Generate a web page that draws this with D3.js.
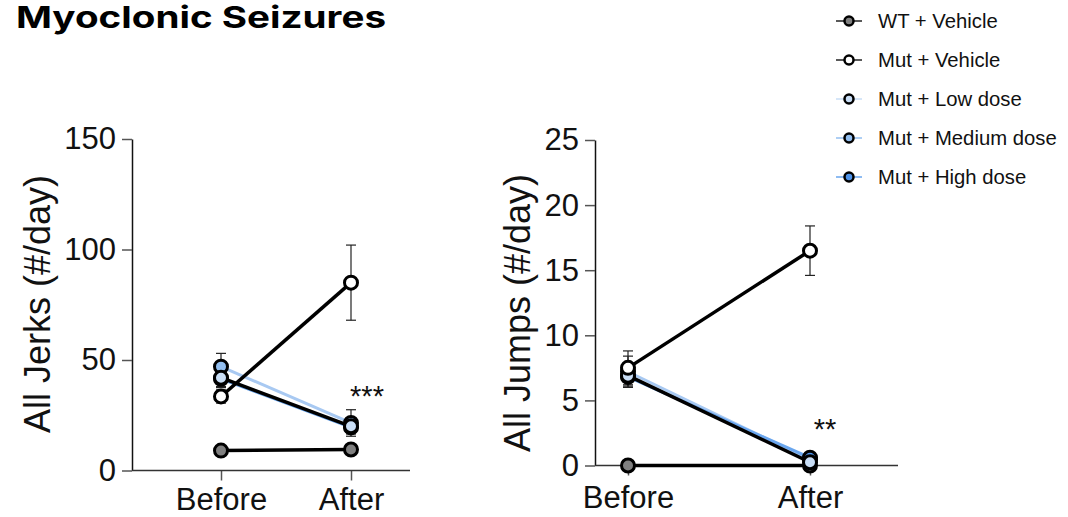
<!DOCTYPE html>
<html>
<head>
<meta charset="utf-8">
<script src="https://cdn.jsdelivr.net/npm/d3@7"></script>
<style>
  html, body { margin: 0; padding: 0; background: #fff; }
  svg { display: block; }
</style>
</head>
<body>
<div id="chart"></div>
<script>
// ── Data ────────────────────────────────────────────────────────────────
var timepoints = ["Before", "After"];
var groups = ["WT + Vehicle", "Mut + Vehicle", "Mut + Low dose", "Mut + Medium dose", "Mut + High dose"];

// All Jerks (#/day): [before, after] and SEM
var jerksMean = [[9, 9.5], [33.5, 85], [42, 20], [47, 21.5], [41.5, 19.5]];
var jerksSem  = [[0.8, 0.8], [3, 17], [4, 3], [6, 6], [4, 3]];
var jerksTicks = [0, 50, 100, 150];

// All Jumps (#/day)
var jumpsMean = [[0, 0], [7.5, 16.5], [6.9, 0.25], [7.2, 0.45], [6.8, 0.6]];
var jumpsSem  = [[0, 0], [1.3, 1.9], [0.8, 0.2], [1.2, 0.3], [0.8, 0.3]];
var jumpsTicks = [0, 5, 10, 15, 20, 25];

// ── Styles ──────────────────────────────────────────────────────────────
var FONT = "'Liberation Sans', Arial, Helvetica, sans-serif";
var fills      = ["#808080", "#ffffff", "#c9def6", "#93bff0", "#4f94ea"];
var lineCols   = ["#000", "#000", "#000", "#a8c9f2", "#6aa6ee"];
var legendLine = ["#222", "#222", "#c9def6", "#93bff0", "#6aa6ee"];
var lineWidths = [3.5, 3.5, 3.5, 3, 3];
var drawOrder  = [0, 3, 4, 2, 1];

var W = 1068, H = 517;
var svg = d3.select("#chart").append("svg").attr("width", W).attr("height", H);

// Title
svg.append("text")
  .attr("x", 16).attr("y", 28)
  .attr("font-family", "Inter, 'Noto Sans', sans-serif")
  .attr("font-weight", 700)
  .attr("font-size", "30px")
  .attr("textLength", 370)
  .attr("lengthAdjust", "spacingAndGlyphs")
  .attr("fill", "#000")
  .text("Myoclonic Seizures");

// ── Panel ───────────────────────────────────────────────────────────────
function panel(opts) {
  var g = svg.append("g");
  var x = d3.scalePoint().domain(timepoints).range(opts.xr);
  var y = d3.scaleLinear().domain([0, opts.ymax]).range([opts.y0, opts.y1]);

  // y axis
  var ya = g.append("g").attr("transform", "translate(" + opts.ax + ",0)")
    .call(d3.axisLeft(y).tickValues(opts.ticks).tickSize(10).tickSizeOuter(0).tickPadding(6));
  ya.select(".domain").attr("stroke", "#111").attr("stroke-width", 1.5);
  ya.selectAll(".tick line").attr("stroke", "#555").attr("stroke-width", 1.5);
  ya.selectAll(".tick text").attr("font-family", FONT).attr("font-size", "31px").attr("fill", "#111");

  // x axis
  var xa = g.append("g").attr("transform", "translate(0," + opts.y0 + ")")
    .call(d3.axisBottom(x).tickSize(10).tickSizeOuter(0).tickPadding(opts.xPad));
  xa.select(".domain").remove();
  xa.append("line").attr("x1", opts.ax).attr("x2", opts.axEnd).attr("y1", 0).attr("y2", 0)
    .attr("stroke", "#333").attr("stroke-width", 1.5);
  xa.selectAll(".tick line").attr("stroke", "#555").attr("stroke-width", 1.5);
  xa.selectAll(".tick text").attr("font-family", FONT).attr("font-size", "31px").attr("fill", "#111");

  // y label
  g.append("text")
    .attr("transform", "translate(" + opts.labX + "," + opts.labY + ") rotate(-90)")
    .attr("text-anchor", "middle")
    .attr("font-family", FONT).attr("font-size", "36px").attr("fill", "#111")
    .text(opts.label);

  // error bars
  drawOrder.forEach(function (gi) {
    timepoints.forEach(function (t, ti) {
      var m = opts.mean[gi][ti], s = opts.sem[gi][ti];
      if (!s) return;
      var cx = x(t);
      var eb = g.append("g").attr("stroke", "#222").attr("stroke-width", 1.2);
      eb.append("line").attr("x1", cx).attr("x2", cx).attr("y1", y(m - s)).attr("y2", y(m + s));
      eb.append("line").attr("x1", cx - 5).attr("x2", cx + 5).attr("y1", y(m + s)).attr("y2", y(m + s));
      eb.append("line").attr("x1", cx - 5).attr("x2", cx + 5).attr("y1", y(m - s)).attr("y2", y(m - s));
    });
  });

  var line = d3.line().x(function (d) { return x(d.t); }).y(function (d) { return y(d.v); });

  drawOrder.forEach(function (gi) {
    var pts = timepoints.map(function (t, ti) { return { t: t, v: opts.mean[gi][ti] }; });
    g.append("path").datum(pts).attr("d", line)
      .attr("fill", "none").attr("stroke", lineCols[gi]).attr("stroke-width", lineWidths[gi]);
  });
  drawOrder.forEach(function (gi) {
    timepoints.forEach(function (t, ti) {
      g.append("circle")
        .attr("cx", x(t)).attr("cy", y(opts.mean[gi][ti])).attr("r", 6.5)
        .attr("fill", fills[gi]).attr("stroke", "#000").attr("stroke-width", 3);
    });
  });

  // significance
  g.append("text")
    .attr("x", opts.starX).attr("y", opts.starY)
    .attr("text-anchor", "middle")
    .attr("font-family", FONT).attr("font-size", "29px").attr("fill", "#111")
    .text(opts.stars);
}

panel({
  xr: [221, 351], ax: 132, axEnd: 410, y0: 470.5, y1: 139, ymax: 150, xPad: 7,
  ticks: jerksTicks, mean: jerksMean, sem: jerksSem,
  label: "All Jerks (#/day)", labX: 50, labY: 304,
  stars: "***", starX: 367, starY: 406
});

panel({
  xr: [628, 810], ax: 595, axEnd: 898, y0: 465.5, y1: 140, ymax: 25, xPad: 10,
  ticks: jumpsTicks, mean: jumpsMean, sem: jumpsSem,
  label: "All Jumps (#/day)", labX: 530, labY: 313,
  stars: "**", starX: 825, starY: 439
});

// ── Legend ──────────────────────────────────────────────────────────────
var ly = d3.scalePoint().domain(groups).range([21, 177]);
var leg = svg.append("g");
groups.forEach(function (name, gi) {
  var row = leg.append("g").attr("transform", "translate(0," + ly(name) + ")");
  row.append("line").attr("x1", 836).attr("x2", 862).attr("y1", 0).attr("y2", 0)
    .attr("stroke", legendLine[gi]).attr("stroke-width", 1.5);
  row.append("circle").attr("cx", 849).attr("cy", 0).attr("r", 4.5)
    .attr("fill", fills[gi]).attr("stroke", "#000").attr("stroke-width", 2.5);
  row.append("text").attr("x", 878).attr("y", 0).attr("dy", "0.35em")
    .attr("font-family", FONT).attr("font-size", "20.3px").attr("fill", "#111")
    .text(name);
});
</script>
</body>
</html>
